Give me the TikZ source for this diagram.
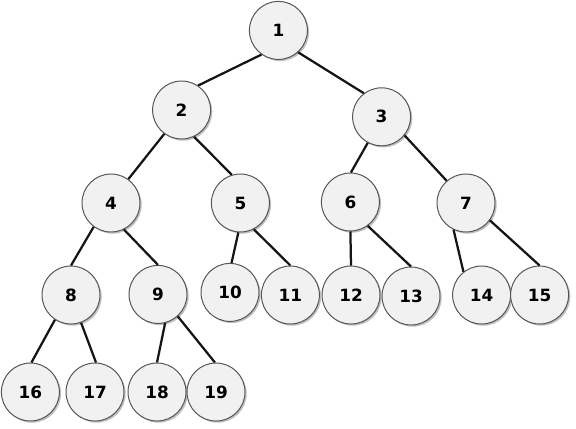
\documentclass[tikz,border=0pt]{standalone}
\usepackage{fontspec}
\setsansfont{DejaVu Sans}
\usepackage{tikz}
\usetikzlibrary{shadows}
\definecolor{fondC}{HTML}{F1F1F1}
\definecolor{bordC}{HTML}{555555}
\definecolor{areteC}{HTML}{151515}
\tikzset{
  sommet/.style={circle, draw=bordC, line width=0.7pt, fill=fondC, minimum size=1.45cm,
                 inner sep=0pt, font=\sffamily\bfseries\fontsize{12}{14}\selectfont,
                 drop shadow={shadow xshift=1.2pt, shadow yshift=-1.2pt, opacity=0.25, fill=black}},
  arete/.style={line width=1.6pt, draw=areteC},
}

\begin{document}
\begin{tikzpicture}
    \useasboundingbox (0,0) rectangle (14.4,-10.7);
    % Niveau 0 et 1
    \node[sommet] (v1) at (6.96,-0.76) {1};
    \node[sommet] (v2) at (4.54,-2.75) {2};
    \node[sommet] (v3) at (9.54,-2.92) {3};
    % Niveau 2
    \node[sommet] (v4) at (2.775,-5.075) {4};
    \node[sommet] (v5) at (6.01,-5.075) {5};
    \node[sommet] (v6) at (8.76,-5.05) {6};
    \node[sommet] (v7) at (11.65,-5.075) {7};
    % Niveau 3
    \node[sommet] (v8) at (1.775,-7.375) {8};
    \node[sommet] (v9) at (3.95,-7.36) {9};
    \node[sommet] (v10) at (5.75,-7.31) {10};
    \node[sommet] (v11) at (7.26,-7.375) {11};
    \node[sommet] (v12) at (8.775,-7.375) {12};
    \node[sommet] (v13) at (10.275,-7.4) {13};
    \node[sommet] (v14) at (12.04,-7.375) {14};
    \node[sommet] (v15) at (13.49,-7.375) {15};
    % Niveau 4
    \node[sommet] (v16) at (0.76,-9.8) {16};
    \node[sommet] (v17) at (2.375,-9.8) {17};
    \node[sommet] (v18) at (3.925,-9.8) {18};
    \node[sommet] (v19) at (5.4,-9.8) {19};
    % Arêtes
    \draw[arete] (v1.235) -- (v2.56); \draw[arete] (v1.312) -- (v3.127);
    \draw[arete] (v2.234) -- (v4.54); \draw[arete] (v2.295) -- (v5.107);
    \draw[arete] (v3.242) -- (v6.89); \draw[arete] (v3.321) -- (v7.131);
    \draw[arete] (v4.234) -- (v8.90); \draw[arete] (v4.296) -- (v9.90);
    \draw[arete] (v5.266) -- (v10.87); \draw[arete] (v5.297) -- (v11.90);
    \draw[arete] (v6.270) -- (v12.90); \draw[arete] (v6.306) -- (v13.90);
    \draw[arete] (v7.245) -- (v14.128); \draw[arete] (v7.324) -- (v15.90);
    \draw[arete] (v8.237) -- (v16.88); \draw[arete] (v8.290) -- (v17.88);
    \draw[arete] (v9.284) -- (v18.90); \draw[arete] (v9.312) -- (v19.92);
\end{tikzpicture}
\end{document}
